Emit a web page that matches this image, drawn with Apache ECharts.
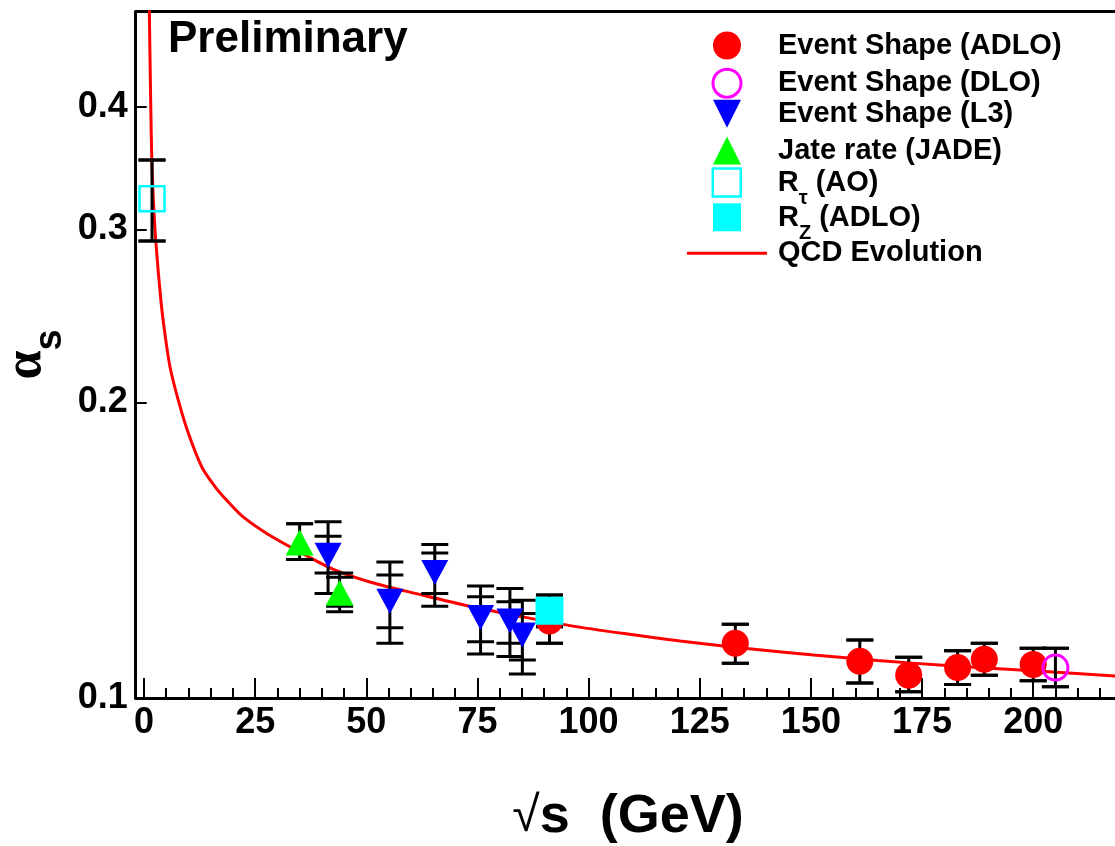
<!DOCTYPE html>
<html>
<head>
<meta charset="utf-8">
<script src="https://cdn.jsdelivr.net/npm/echarts@6/dist/echarts.min.js"></script>
<style>
  html, body { margin: 0; padding: 0; background: #fff; }
  #chart { width: 1115px; height: 846px; }
</style>
</head>
<body>
<div id="chart"></div>
<script>
// ---- data (sqrt(s) in GeV, alpha_s) ----
const adloX  = [91.2, 133, 161, 172, 183, 189, 200];
const adloY  = [0.1198, 0.1137, 0.1090, 0.1055, 0.1074, 0.1095, 0.1082];
const adloLo = [0.1137, 0.1085, 0.1036, 0.1015, 0.1032, 0.1055, 0.1041];
const adloHi = [0.1260, 0.1189, 0.1146, 0.1100, 0.1117, 0.1137, 0.1124];

const dloX  = [205];
const dloY  = [0.1074];
const dloLo = [0.1027];
const dloHi = [0.1124];

const l3X      = [41.4, 55.3, 65.4, 75.7, 82.3, 85.1];
const l3Y      = [0.1398, 0.1255, 0.1342, 0.1208, 0.1198, 0.1159];
const l3Lo     = [0.1278, 0.1137, 0.1240, 0.1109, 0.1102, 0.1058];
const l3Hi     = [0.1512, 0.1376, 0.1433, 0.1300, 0.1293, 0.1258];
const l3StatLo = [0.1341, 0.1179, 0.1278, 0.1141, 0.1137, 0.1093];
const l3StatHi = [0.1461, 0.1334, 0.1405, 0.1268, 0.1253, 0.1219];

const jadeX      = [35, 44];
const jadeY      = [0.1440, 0.1280];
const jadeLo     = [0.1384, 0.1224];
const jadeHi     = [0.1505, 0.1341];
const jadeStatLo = [0.1384, 0.1240];
const jadeStatHi = [0.1505, 0.1327];

const rtauX  = [1.8];
const rtauY  = [0.3224];
const rtauLo = [0.2921];
const rtauHi = [0.3532];

const rzX  = [91.2];
const rzY  = [0.1227];
const rzLo = [0.1182];
const rzHi = [0.1273];

const qcdX = [1.1, 1.2, 1.5, 1.75, 2.1, 2.65, 3.8, 4.7, 5.85, 7.7, 10.0, 13.0, 16.0, 18.6, 22.3, 27.6,
              34.3, 42.6, 51, 62, 73.3, 85, 95.8, 108, 120.6, 135, 150.6, 165, 180.6, 200, 218.4];
const qcdY = [0.56, 0.50, 0.406, 0.353, 0.322, 0.292, 0.254, 0.235, 0.2173, 0.2011, 0.1859, 0.1719, 0.1641, 0.159, 0.1529, 0.1471,
              0.1414, 0.1352, 0.1312, 0.1275, 0.1240, 0.1210, 0.1185, 0.1163, 0.1143, 0.1124, 0.1106, 0.1092, 0.1079, 0.1066, 0.1053];

const xMajorTicks = [0, 25, 50, 75, 100, 125, 150, 175, 200];
const xMinorTicks = [5, 10, 15, 20, 30, 35, 40, 45, 55, 60, 65, 70, 80, 85, 90, 95, 105, 110, 115, 120,
                     130, 135, 140, 145, 155, 160, 165, 170, 180, 185, 190, 195, 205, 210, 215];
const yTicks = [0.1, 0.2, 0.3, 0.4];

const X_MIN = -1.87, X_MAX = 218.4;
const Y_MIN = 0.1, Y_MAX = 0.5;

// y axis is logarithmic: the value axis works in log10(alpha_s)
const lg = Math.log10;
const pts = (xs, ys) => xs.map((x, i) => [x, lg(ys[i])]);
const errs = (xs, lo, hi, slo, shi) => xs.map((x, i) => [x, lg(lo[i]), lg(hi[i]), lg((slo || lo)[i]), lg((shi || hi)[i])]);

const errData = [].concat(
  errs(rtauX, rtauLo, rtauHi),
  errs(jadeX, jadeLo, jadeHi, jadeStatLo, jadeStatHi),
  errs(l3X, l3Lo, l3Hi, l3StatLo, l3StatHi),
  errs(adloX, adloLo, adloHi),
  errs(rzX, rzLo, rzHi),
  errs(dloX, dloLo, dloHi)
);

const FONT = 'Liberation Sans';

function renderErr(params, api) {
  const x = api.value(0);
  const lo = api.coord([x, api.value(1)]);
  const hi = api.coord([x, api.value(2)]);
  const slo = api.coord([x, api.value(3)]);
  const shi = api.coord([x, api.value(4)]);
  const w = 13.5;
  const st = { stroke: '#000', lineWidth: 3 };
  const cap = p => ({ type: 'line', shape: { x1: p[0] - w, y1: p[1], x2: p[0] + w, y2: p[1] }, style: st });
  return {
    type: 'group',
    children: [
      { type: 'line', shape: { x1: hi[0], y1: hi[1], x2: lo[0], y2: lo[1] }, style: st },
      cap(hi), cap(lo), cap(shi), cap(slo)
    ]
  };
}

const chart = echarts.init(document.getElementById('chart'));

const legendText = { fontFamily: FONT, fontWeight: 'bold', fontSize: 29, color: '#000' };
const subRich = {
  bp: { fontFamily: FONT, fontWeight: 'bold', fontSize: 29, lineHeight: 28, verticalAlign: 'top' },
  sb: { fontFamily: FONT, fontWeight: 'bold', fontSize: 20, lineHeight: 20, padding: [20.1, 0, 0, 0], verticalAlign: 'top' }
};

// one legend block per entry, so every row sits where the reference puts it
function makeLegend(item, cy, extra) {
  return Object.assign({
    data: [item],
    left: 713,
    top: cy - 14,
    padding: 0,
    orient: 'vertical',
    itemWidth: 28,
    itemHeight: 28,
    selectedMode: false,
    textStyle: Object.assign({ lineHeight: 28, padding: [0, 0, 0, 32] }, legendText)
  }, extra || {});
}

const option = {
  animation: false,
  backgroundColor: '#fff',
  grid: { left: 135.7, top: 11.7, right: 0, bottom: 148, containLabel: false },
  xAxis: [
    {
      type: 'value', min: X_MIN, max: X_MAX, position: 'bottom',
      axisLine: { onZero: false, lineStyle: { color: '#000', width: 3 } },
      axisTick: { inside: true, length: 20, customValues: xMajorTicks, lineStyle: { color: '#000', width: 2 } },
      axisLabel: { customValues: xMajorTicks, fontFamily: FONT, fontWeight: 'bold', fontSize: 36, color: '#000', margin: 7 },
      splitLine: { show: false }
    },
    {
      type: 'value', min: X_MIN, max: X_MAX, position: 'bottom',
      axisLine: { show: false },
      axisTick: { inside: true, length: 10, customValues: xMinorTicks, lineStyle: { color: '#000', width: 2 } },
      axisLabel: { show: false },
      splitLine: { show: false }
    },
    {
      type: 'value', min: X_MIN, max: X_MAX, position: 'top',
      axisLine: { onZero: false, lineStyle: { color: '#000', width: 3 } },
      axisTick: { show: false }, axisLabel: { show: false }, splitLine: { show: false }
    }
  ],
  yAxis: {
    type: 'value', min: lg(Y_MIN), max: lg(Y_MAX),
    axisLine: { show: true, onZero: false, lineStyle: { color: '#000', width: 3 } },
    axisTick: { inside: true, length: 11, customValues: yTicks.map(lg), lineStyle: { color: '#000', width: 2 } },
    axisLabel: {
      customValues: yTicks.map(lg),
      formatter: v => Math.pow(10, v).toFixed(1),
      fontFamily: FONT, fontWeight: 'bold', fontSize: 36, color: '#000', margin: 8,
      padding: [4, 0, 0, 0]
    },
    splitLine: { show: false }
  },
  legend: [
    makeLegend({ name: 'Event Shape (ADLO)', icon: 'circle' }, 45),
    makeLegend({ name: 'Event Shape (DLO)', icon: 'circle',
                 itemStyle: { color: 'rgba(0,0,0,0)', borderColor: '#ff00ff', borderWidth: 3 } }, 81.7, { left: 711.5 }),
    makeLegend({ name: 'Event Shape (L3)', icon: 'path://M0,0L20,0L10,20Z' }, 113.3),
    makeLegend({ name: 'Jate rate (JADE)', icon: 'path://M10,0L20,20L0,20Z' }, 150),
    makeLegend({ name: 'Rτ (AO)', icon: 'rect',
                 itemStyle: { color: 'rgba(0,0,0,0)', borderColor: '#00ffff', borderWidth: 2.5 } }, 182.3, {
      top: 182.3 - 15, left: 711.5,
      formatter: () => '{bp|R}{sb|τ}{bp| (AO)}',
      textStyle: Object.assign({ rich: subRich, lineHeight: 28, padding: [0, 0, 0, 32] }, legendText)
    }),
    makeLegend({ name: 'RZ (ADLO)', icon: 'rect' }, 218.3, {
      top: 218.3 - 15,
      formatter: () => '{bp|R}{sb|Z}{bp| (ADLO)}',
      textStyle: Object.assign({ rich: subRich, lineHeight: 28, padding: [0, 0, 0, 32] }, legendText)
    }),
    makeLegend({ name: 'QCD Evolution', icon: 'rect', itemStyle: { color: '#ff0000' } }, 252.7, {
      left: 687, itemWidth: 80, itemHeight: 3,
      textStyle: Object.assign({ lineHeight: 28, padding: [0, 0, 0, 6] }, legendText)
    })
  ],
  graphic: [
    { type: 'text', x: 168, y: 40, style: { text: 'Preliminary', fontFamily: FONT, fontWeight: 'bold', fontSize: 44, fill: '#000', align: 'left', verticalAlign: 'middle' } },
    { type: 'text', x: 27, y: 365, rotation: Math.PI / 2, style: { text: 'α', fontFamily: 'Liberation Serif', fontWeight: 'bold', fontSize: 52, fill: '#000', align: 'center', verticalAlign: 'middle' } },
    { type: 'text', x: 51, y: 340, rotation: Math.PI / 2, style: { text: 's', fontFamily: FONT, fontWeight: 'bold', fontSize: 38, fill: '#000', align: 'center', verticalAlign: 'middle' } },
    {
      type: 'text', x: 628, y: 817,
      style: {
        text: '{r|√}{t|s  (GeV)}', align: 'center', verticalAlign: 'middle', fill: '#000',
        rich: {
          r: { fontFamily: FONT, fontSize: 50, fill: '#000' },
          t: { fontFamily: FONT, fontWeight: 'bold', fontSize: 54, fill: '#000' }
        }
      }
    }
  ],
  series: [
    {
      name: 'QCD Evolution', type: 'line', z: 1,
      data: pts(qcdX, qcdY), symbol: 'none', smooth: 0.3,
      lineStyle: { color: '#ff0000', width: 3 }, itemStyle: { color: '#ff0000' }
    },
    {
      name: 'errors', type: 'custom', z: 2, renderItem: renderErr,
      data: errData, encode: { x: 0, y: [1, 2] }, clip: true
    },
    {
      name: 'Event Shape (ADLO)', type: 'scatter', z: 3, data: pts(adloX, adloY),
      symbol: 'circle', symbolSize: 27, itemStyle: { color: '#ff0000', opacity: 1 }
    },
    {
      name: 'Event Shape (DLO)', type: 'scatter', z: 3, data: pts(dloX, dloY),
      symbol: 'circle', symbolSize: 25,
      itemStyle: { color: 'rgba(0,0,0,0)', borderColor: '#ff00ff', borderWidth: 3, opacity: 1 }
    },
    {
      name: 'Event Shape (L3)', type: 'scatter', z: 3, data: pts(l3X, l3Y),
      symbol: 'triangle', symbolSize: [27, 25], symbolRotate: 180, itemStyle: { color: '#0000ff', opacity: 1 }
    },
    {
      name: 'Jate rate (JADE)', type: 'scatter', z: 3, data: pts(jadeX, jadeY),
      symbol: 'triangle', symbolSize: [28, 26], itemStyle: { color: '#00ff00', opacity: 1 }
    },
    {
      name: 'Rτ (AO)', type: 'scatter', z: 3, data: pts(rtauX, rtauY),
      symbol: 'rect', symbolSize: 25,
      itemStyle: { color: 'rgba(0,0,0,0)', borderColor: '#00ffff', borderWidth: 2.5, opacity: 1 }
    },
    {
      name: 'RZ (ADLO)', type: 'scatter', z: 3, data: pts(rzX, rzY),
      symbol: 'rect', symbolSize: 28, itemStyle: { color: '#00ffff', opacity: 1 }
    }
  ]
};

chart.setOption(option);
</script>
</body>
</html>
